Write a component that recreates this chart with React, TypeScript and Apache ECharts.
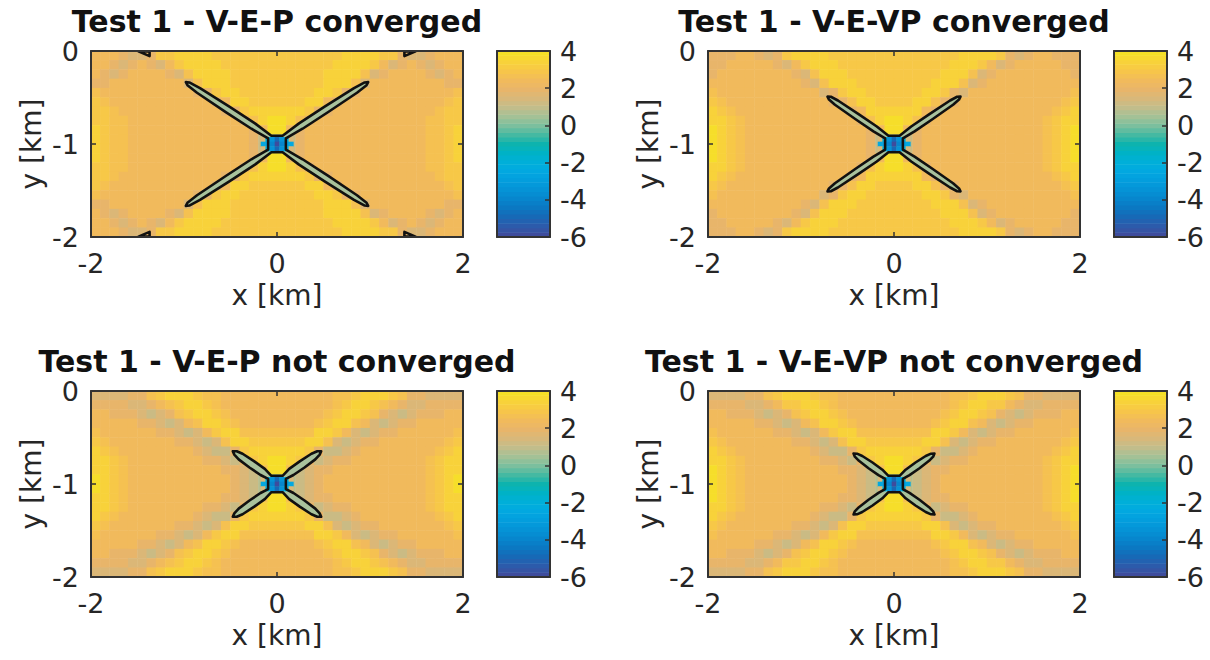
import React, { useEffect, useRef } from "react";
import * as echarts from "echarts";

// ---------------- texts ----------------
const PANEL_TITLES = [
  "Test 1 - V-E-P converged",
  "Test 1 - V-E-VP converged",
  "Test 1 - V-E-P not converged",
  "Test 1 - V-E-VP not converged",
];
const X_LABEL = "x [km]";
const Y_LABEL = "y [km]";

// ---------------- axes / ticks ----------------
const X_RANGE = [-2, 2];
const X_TICK_STEP = 2;
const Y_RANGE = [-2, 0];
const Y_TICK_STEP = 1;
const CB_RANGE = [-6, 4];
const CB_TICK_STEP = 2;

// colour scale (parula-like, as printed), from -6 to 4
const CMAP = [
  "#3e4c9d", "#2c5bab", "#1769b6", "#0b78c2", "#0786cd", "#0593d6", "#039edd",
  "#02a8e0", "#00afd9", "#00b2c6", "#0db3ae", "#44b9a2", "#7bbf9e", "#a3c196",
  "#c1bd8b", "#d8b87a", "#e8b56a", "#f1ba5c", "#f7c54a", "#f8d23a", "#f5e126",
];

// colour-bar steps (value of each strip of the colour bar, bottom to top)
const CB_LEVELS = [
  -6, -5.75, -5.5, -5.25, -5, -4.75, -4.5, -4.25, -4, -3.75, -3.5, -3.25, -3, -2.75,
  -2.5, -2.25, -2, -1.75, -1.5, -1.25, -1, -0.75, -0.5, -0.25, 0, 0.25, 0.5, 0.75,
  1, 1.25, 1.5, 1.75, 2, 2.25, 2.5, 2.75, 3, 3.25, 3.5, 3.75, 4,
];

// ---------------- field values ----------------
// Each character is a level index into LEVEL_VALUES. 40 cells (x = -2..2) x 20 rows (y = 0..-2), 0.1 km cells.
const LEVEL_VALUES = [0.3, 0.8, 1.2, 1.6, 2.0, 2.5, 2.8, 3.1, 3.5, 3.9];

const FIELD_VEP_CONV = [
  "55543347788887777777" + "77777778888774334555",
  "55434543578888777777" + "77777788887534543455",
  "54345555436888877777" + "77777888863455554345",
  "44555555553688877777" + "77777888635555555544",
  "65555555555447887777" + "77778874455555555556",
  "76555555555554588777" + "77788545555555555567",
  "77655555555555447888" + "88874455555555555677",
  "77665555555555554689" + "98645555555555556677",
  "87665555555555555459" + "95455555555555556678",
  "87665555555555555421" + "12455555555555556678",
  "87665555555555555421" + "12455555555555556678",
  "87665555555555555459" + "95455555555555556678",
  "77665555555555554689" + "98645555555555556677",
  "77655555555555447888" + "88874455555555555677",
  "76555555555554588777" + "77788545555555555567",
  "65555555555447887777" + "77778874455555555556",
  "44555555553688877777" + "77777888635555555544",
  "54345555436888877777" + "77777888863455554345",
  "55434543578888777777" + "77777788887534543455",
  "55543347788887777777" + "77777778888774334555",
];

const FIELD_VEVP_CONV = [
  "44455434788887777777" + "77777778888743455444",
  "44555554357888777777" + "77777788875345555544",
  "45555555543688877777" + "77777888634555555554",
  "55555555554368887777" + "77778886345555555555",
  "65555555555534788777" + "77788743555555555556",
  "76555555555554468877" + "77886445555555555567",
  "87655555555555545888" + "88854555555555555678",
  "88765555555555554689" + "98645555555555556788",
  "98765555555555555459" + "95455555555555556789",
  "98765555555555555421" + "12455555555555556789",
  "98765555555555555421" + "12455555555555556789",
  "98765555555555555459" + "95455555555555556789",
  "88765555555555554689" + "98645555555555556788",
  "87655555555555545888" + "88854555555555555678",
  "76555555555554468877" + "77886445555555555567",
  "65555555555534788777" + "77788743555555555556",
  "55555555554368887777" + "77778886345555555555",
  "45555555543688877777" + "77777888634555555554",
  "44555554357888777777" + "77777788875345555544",
  "44455434788887777777" + "77777778888743455444",
];

const FIELD_VEP_NOCONV = [
  "33334467888766555555" + "55555566788876443333",
  "44443345678876555555" + "55555567887654334444",
  "55444323467887655555" + "55555678876432344455",
  "55555443235688765555" + "55556788653234455555",
  "65555554432357886666" + "66668875323445555556",
  "76555555544323688777" + "77788632344555555567",
  "87655555555432247888" + "88874223455555555678",
  "88765555555544324789" + "98742344555555556788",
  "88765555555555443269" + "96234455555555556788",
  "98765555555555543210" + "01234555555555556789",
  "98765555555555543210" + "01234555555555556789",
  "88765555555555443269" + "96234455555555556788",
  "88765555555544324789" + "98742344555555556788",
  "87655555555432247888" + "88874223455555555678",
  "76555555544323688777" + "77788632344555555567",
  "65555554432357886666" + "66668875323445555556",
  "55555443235688765555" + "55556788653234455555",
  "55444323467887655555" + "55555678876432344455",
  "44443345678876555555" + "55555567887654334444",
  "33334467888766555555" + "55555566788876443333",
];

const FIELD_VEVP_NOCONV = [
  "33334467888766555555" + "55555566788876443333",
  "44443345778876555555" + "55555567887754334444",
  "55444323467887655555" + "55555678876432344455",
  "55555443235688765555" + "55556788653234455555",
  "65555554432357886666" + "66668875323445555556",
  "76555555544323688777" + "77788632344555555567",
  "87655555555432247888" + "88874223455555555678",
  "88765555555544324789" + "98742344555555556788",
  "98765555555555443269" + "96234455555555556789",
  "98765555555555543210" + "01234555555555556789",
  "98765555555555543210" + "01234555555555556789",
  "98765555555555443269" + "96234455555555556789",
  "88765555555544324789" + "98742344555555556788",
  "87655555555432247888" + "88874223455555555678",
  "76555555544323688777" + "77788632344555555567",
  "65555554432357886666" + "66668875323445555556",
  "55555443235688765555" + "55556788653234455555",
  "55444323467887655555" + "55555678876432344455",
  "44443345778876555555" + "55555567887754334444",
  "33334467888766555555" + "55555566788876443333",
];

// fine cells around the source at (0, -1), 0.05 km
const CORE_X = [-0.15, -0.1, -0.05, 0, 0.05, 0.1, 0.15];
const CORE_Y = [-0.95, -1.0, -1.05];
const CORE_VALUES = [
  [1.5, -2.0, -3.5, -5.0, -3.5, -2.0, 1.5],
  [-2.5, -3.0, -4.0, -6.0, -4.0, -3.0, -2.5],
  [1.5, -2.0, -3.5, -5.0, -3.5, -2.0, 1.5],
];
const CORE_CELL = 0.05;

// ---------------- contour lines (x, y in km) ----------------
const CONTOUR_VEP_CONV = [
  [-0.06, -0.912], [0.06, -0.912], [0.237, -0.778], [0.508, -0.601], [0.828, -0.399], [0.943, -0.338],
  [0.98, -0.335], [0.963, -0.368], [0.86, -0.449], [0.547, -0.659], [0.275, -0.836], [0.095, -0.94],
  [0.095, -1.06], [0.275, -1.164], [0.547, -1.341], [0.86, -1.551], [0.963, -1.632], [0.98, -1.665],
  [0.943, -1.662], [0.828, -1.601], [0.508, -1.399], [0.237, -1.222], [0.06, -1.088], [-0.06, -1.088],
  [-0.237, -1.222], [-0.508, -1.399], [-0.828, -1.601], [-0.943, -1.662], [-0.98, -1.665], [-0.963, -1.632],
  [-0.86, -1.551], [-0.547, -1.341], [-0.275, -1.164], [-0.095, -1.06], [-0.095, -0.94], [-0.275, -0.836],
  [-0.547, -0.659], [-0.86, -0.449], [-0.963, -0.368], [-0.98, -0.335], [-0.943, -0.338], [-0.828, -0.399],
  [-0.508, -0.601], [-0.237, -0.778],
];
const EDGE_CONTOURS_VEP_CONV = [
  [[-1.49, -0.004], [-1.37, -0.004], [-1.37, -0.055]],
  [[1.49, -0.004], [1.37, -0.004], [1.37, -0.055]],
  [[-1.49, -1.996], [-1.37, -1.996], [-1.37, -1.945]],
  [[1.49, -1.996], [1.37, -1.996], [1.37, -1.945]],
];

const CONTOUR_VEVP_CONV = [
  [-0.06, -0.912], [0.06, -0.912], [0.185, -0.812], [0.377, -0.681], [0.603, -0.532], [0.679, -0.492],
  [0.715, -0.49], [0.699, -0.522], [0.635, -0.578], [0.413, -0.734], [0.221, -0.864], [0.095, -0.94],
  [0.095, -1.06], [0.221, -1.136], [0.413, -1.266], [0.635, -1.422], [0.699, -1.478], [0.715, -1.51],
  [0.679, -1.508], [0.603, -1.468], [0.377, -1.319], [0.185, -1.188], [0.06, -1.088], [-0.06, -1.088],
  [-0.185, -1.188], [-0.377, -1.319], [-0.603, -1.468], [-0.679, -1.508], [-0.715, -1.51], [-0.699, -1.478],
  [-0.635, -1.422], [-0.413, -1.266], [-0.221, -1.136], [-0.095, -1.06], [-0.095, -0.94], [-0.221, -0.864],
  [-0.413, -0.734], [-0.635, -0.578], [-0.699, -0.522], [-0.715, -0.49], [-0.679, -0.492], [-0.603, -0.532],
  [-0.377, -0.681], [-0.185, -0.812],
];

const CONTOUR_VEP_NOCONV = [
  [-0.06, -0.912], [0.06, -0.912], [0.131, -0.837], [0.248, -0.754], [0.37, -0.675], [0.433, -0.648],
  [0.475, -0.648], [0.459, -0.684], [0.412, -0.735], [0.296, -0.823], [0.177, -0.903], [0.095, -0.945],
  [0.095, -1.055], [0.177, -1.097], [0.296, -1.177], [0.412, -1.265], [0.459, -1.316], [0.475, -1.352],
  [0.433, -1.352], [0.37, -1.325], [0.248, -1.246], [0.131, -1.163], [0.06, -1.088], [-0.06, -1.088],
  [-0.131, -1.163], [-0.248, -1.246], [-0.37, -1.325], [-0.433, -1.352], [-0.475, -1.352], [-0.459, -1.316],
  [-0.412, -1.265], [-0.296, -1.177], [-0.177, -1.097], [-0.095, -1.055], [-0.095, -0.945], [-0.177, -0.903],
  [-0.296, -0.823], [-0.412, -0.735], [-0.459, -0.684], [-0.475, -0.648], [-0.433, -0.648], [-0.37, -0.675],
  [-0.248, -0.754], [-0.131, -0.837],
];

const CONTOUR_VEVP_NOCONV = [
  [-0.06, -0.912], [0.06, -0.912], [0.125, -0.846], [0.231, -0.769], [0.341, -0.699], [0.398, -0.674],
  [0.435, -0.672], [0.421, -0.706], [0.377, -0.751], [0.274, -0.831], [0.167, -0.904], [0.095, -0.945],
  [0.095, -1.055], [0.167, -1.096], [0.274, -1.169], [0.377, -1.249], [0.421, -1.294], [0.435, -1.328],
  [0.398, -1.326], [0.341, -1.301], [0.231, -1.231], [0.125, -1.154], [0.06, -1.088], [-0.06, -1.088],
  [-0.125, -1.154], [-0.231, -1.231], [-0.341, -1.301], [-0.398, -1.326], [-0.435, -1.328], [-0.421, -1.294],
  [-0.377, -1.249], [-0.274, -1.169], [-0.167, -1.096], [-0.095, -1.055], [-0.095, -0.945], [-0.167, -0.904],
  [-0.274, -0.831], [-0.377, -0.751], [-0.421, -0.706], [-0.435, -0.672], [-0.398, -0.674], [-0.341, -0.699],
  [-0.231, -0.769], [-0.125, -0.846],
];

const PANELS = [
  { title: PANEL_TITLES[0], field: FIELD_VEP_CONV, contours: [CONTOUR_VEP_CONV, ...EDGE_CONTOURS_VEP_CONV] },
  { title: PANEL_TITLES[1], field: FIELD_VEVP_CONV, contours: [CONTOUR_VEVP_CONV] },
  { title: PANEL_TITLES[2], field: FIELD_VEP_NOCONV, contours: [CONTOUR_VEP_NOCONV] },
  { title: PANEL_TITLES[3], field: FIELD_VEVP_NOCONV, contours: [CONTOUR_VEVP_NOCONV] },
];

// ---------------- layout ----------------
const PANEL_POS = [
  [91, 51],
  [708, 51],
  [91, 391],
  [708, 391],
];
const PLOT_W = 372;
const PLOT_H = 186;
const CB_OFFSET = 406;
const CB_W = 53;
const TITLE_DY = -30;

const FONT = "DejaVu Sans";
const AXIS_COLOR = "#333333";
const TEXT_COLOR = "#262626";
const ARM_FILL = "#a9c29c";
const CONTOUR_COLOR = "#111111";

const tickFont = { fontFamily: FONT, fontSize: 27, color: TEXT_COLOR };
const nameFont = { fontFamily: FONT, fontSize: 28, color: TEXT_COLOR };

function valueAxis(extra: any) {
  return {
    type: "value",
    z: 10,
    silent: true,
    axisLine: { show: true, onZero: false, lineStyle: { color: AXIS_COLOR, width: 2 } },
    axisTick: { show: true, inside: true, length: 5, lineStyle: { color: AXIS_COLOR, width: 1.5 } },
    axisLabel: { show: false },
    splitLine: { show: false },
    ...extra,
  };
}

function buildOption() {
  const grid: any[] = [];
  const xAxis: any[] = [];
  const yAxis: any[] = [];
  const series: any[] = [];
  const graphic: any[] = [];
  const vmSeries: number[] = [];

  const nCols = PANELS[0].field[0].length;
  const nRows = PANELS[0].field.length;
  const colCats = Array.from({ length: nCols }, (_, k) => String(k));
  const rowCats = Array.from({ length: nRows }, (_, k) => String(k));
  const cbCats = CB_LEVELS.map((_, k) => String(k));

  PANELS.forEach((panel, i) => {
    const [left, top] = PANEL_POS[i];
    const gPlot = grid.length;
    grid.push({ left, top, width: PLOT_W, height: PLOT_H });
    const gCb = grid.length;
    grid.push({ left: left + CB_OFFSET, top, width: CB_W, height: PLOT_H });

    graphic.push({
      type: "text",
      x: left + PLOT_W / 2,
      y: top + TITLE_DY,
      silent: true,
      style: {
        text: panel.title,
        fontFamily: FONT,
        fontWeight: "bold",
        fontSize: 30,
        fill: "#111111",
        align: "center",
        verticalAlign: "middle",
      },
    });

    // ---- plot axes ----
    const xCat = xAxis.length;
    xAxis.push({ gridIndex: gPlot, type: "category", data: colCats, show: false });
    const xVal = xAxis.length;
    xAxis.push(
      valueAxis({
        gridIndex: gPlot,
        position: "bottom",
        min: X_RANGE[0],
        max: X_RANGE[1],
        interval: X_TICK_STEP,
        axisLabel: { show: true, margin: 13, ...tickFont },
        name: X_LABEL,
        nameLocation: "middle",
        nameGap: 44,
        nameTextStyle: nameFont,
      })
    );
    xAxis.push(
      valueAxis({ gridIndex: gPlot, position: "top", min: X_RANGE[0], max: X_RANGE[1], interval: X_TICK_STEP })
    );

    const yCat = yAxis.length;
    yAxis.push({ gridIndex: gPlot, type: "category", data: rowCats, inverse: true, show: false });
    const yVal = yAxis.length;
    yAxis.push(
      valueAxis({
        gridIndex: gPlot,
        position: "left",
        min: Y_RANGE[0],
        max: Y_RANGE[1],
        interval: Y_TICK_STEP,
        axisLabel: { show: true, margin: 12, ...tickFont },
        name: Y_LABEL,
        nameLocation: "middle",
        nameGap: 46,
        nameTextStyle: nameFont,
      })
    );
    yAxis.push(
      valueAxis({ gridIndex: gPlot, position: "right", min: Y_RANGE[0], max: Y_RANGE[1], interval: Y_TICK_STEP })
    );

    // ---- colour bar axes ----
    const xCbCat = xAxis.length;
    xAxis.push({ gridIndex: gCb, type: "category", data: ["cb"], show: false });
    xAxis.push(valueAxis({ gridIndex: gCb, position: "bottom", min: 0, max: 1, axisTick: { show: false } }));
    xAxis.push(valueAxis({ gridIndex: gCb, position: "top", min: 0, max: 1, axisTick: { show: false } }));
    const yCbCat = yAxis.length;
    yAxis.push({ gridIndex: gCb, type: "category", data: cbCats, show: false });
    yAxis.push(
      valueAxis({
        gridIndex: gCb,
        position: "right",
        min: CB_RANGE[0],
        max: CB_RANGE[1],
        interval: CB_TICK_STEP,
        axisLabel: { show: true, margin: 10, ...tickFont },
      })
    );
    yAxis.push(valueAxis({ gridIndex: gCb, position: "left", min: CB_RANGE[0], max: CB_RANGE[1], axisTick: { show: false } }));

    // ---- field ----
    const cells: number[][] = [];
    panel.field.forEach((row, r) => {
      for (let c = 0; c < row.length; c++) {
        const lv = row.charCodeAt(c) - 48;
        cells.push([c, r, LEVEL_VALUES[lv]]);
      }
    });
    vmSeries.push(series.length);
    series.push({
      type: "heatmap",
      xAxisIndex: xCat,
      yAxisIndex: yCat,
      data: cells,
      progressive: 0,
      silent: true,
      emphasis: { disabled: true },
    });

    const polyData = panel.contours.map((poly, k) => [poly[0][0], poly[0][1], k]);

    // arm interiors (inside the main contour)
    series.push({
      type: "custom",
      xAxisIndex: xVal,
      yAxisIndex: yVal,
      silent: true,
      clip: true,
      data: [polyData[0]],
      encode: { x: 0, y: 1 },
      renderItem: (_p: any, api: any) => {
        const pts = panel.contours[api.value(2)].map((pt: number[]) => api.coord(pt));
        return { type: "polygon", shape: { points: pts }, style: { fill: ARM_FILL, stroke: "none" } };
      },
    });

    // source cells
    const core: number[][] = [];
    CORE_Y.forEach((y, r) => CORE_X.forEach((x, c) => core.push([x, y, CORE_VALUES[r][c]])));
    vmSeries.push(series.length);
    series.push({
      type: "custom",
      xAxisIndex: xVal,
      yAxisIndex: yVal,
      silent: true,
      data: core,
      encode: { x: 0, y: 1 },
      renderItem: (_p: any, api: any) => {
        const c = api.coord([api.value(0), api.value(1)]);
        const s = api.size([CORE_CELL, CORE_CELL]);
        return {
          type: "rect",
          shape: { x: c[0] - s[0] / 2, y: c[1] - s[1] / 2, width: s[0] + 0.4, height: s[1] + 0.4 },
          style: { fill: api.visual("color") },
        };
      },
    });

    // contour lines
    series.push({
      type: "custom",
      xAxisIndex: xVal,
      yAxisIndex: yVal,
      silent: true,
      clip: true,
      data: polyData,
      encode: { x: 0, y: 1 },
      renderItem: (_p: any, api: any) => {
        const pts = panel.contours[api.value(2)].map((pt: number[]) => api.coord(pt));
        return {
          type: "polygon",
          shape: { points: pts },
          style: { fill: "none", stroke: CONTOUR_COLOR, lineWidth: 2.6, lineJoin: "round" },
        };
      },
    });

    // colour bar
    vmSeries.push(series.length);
    series.push({
      type: "heatmap",
      xAxisIndex: xCbCat,
      yAxisIndex: yCbCat,
      data: CB_LEVELS.map((v, k) => [0, k, v]),
      progressive: 0,
      silent: true,
      emphasis: { disabled: true },
    });
  });

  return {
    animation: false,
    backgroundColor: "#ffffff",
    grid,
    xAxis,
    yAxis,
    series,
    graphic,
    visualMap: {
      type: "continuous",
      show: false,
      min: CB_RANGE[0],
      max: CB_RANGE[1],
      dimension: 2,
      seriesIndex: vmSeries,
      inRange: { color: CMAP },
    },
  };
}

export default function App() {
  const ref = useRef<HTMLDivElement>(null);
  useEffect(() => {
    if (!ref.current) return;
    const chart = echarts.init(ref.current, null, { renderer: "svg" });
    chart.setOption(buildOption() as any);
    return () => chart.dispose();
  }, []);
  return (
    <div
      ref={ref}
      style={{ position: "fixed", left: 0, top: 0, width: 1210, height: 660, background: "#ffffff" }}
    />
  );
}
